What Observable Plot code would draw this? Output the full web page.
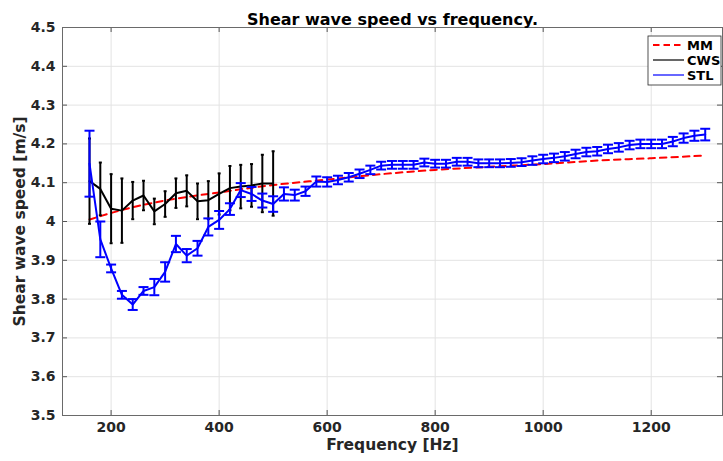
<!DOCTYPE html>
<html>
<head>
<meta charset="utf-8">
<script src="https://cdn.jsdelivr.net/npm/d3@7"></script>
<script src="https://cdn.jsdelivr.net/npm/@observablehq/plot@0.6"></script>
<style>
  html, body { margin: 0; padding: 0; background: #fff; }
  #chart svg { display: block; }
</style>
</head>
<body>
<div id="chart"></div>
<script>
// ---- Data ----
const titleText = "Shear wave speed vs frequency.";
const xLabel = "Frequency [Hz]";
const yLabel = "Shear wave speed [m/s]";
const xTicks = [200, 400, 600, 800, 1000, 1200];
const yTicks = [3.5, 3.6, 3.7, 3.8, 3.9, 4.0, 4.1, 4.2, 4.3, 4.4, 4.5];
const seriesNames = ["MM", "CWS", "STL"];
const seriesColors = ["#ff0000", "#000000", "#0000ff"];

// MM model curve (red dashed)
const mmFreq = [160, 200, 250, 300, 400, 500, 600, 700, 800, 900, 1000, 1100, 1200, 1300];
const mmSpeed = [4.005, 4.022, 4.040, 4.054, 4.075, 4.094, 4.108, 4.122, 4.133, 4.141, 4.148, 4.157, 4.163, 4.170];

// CWS (black, with error bars)
const cwsFreq = [160, 180, 200, 220, 240, 260, 280, 300, 320, 340, 360, 380, 400, 420, 440, 460, 480, 500];
const cwsSpeed = [4.104, 4.084, 4.033, 4.028, 4.054, 4.067, 4.026, 4.045, 4.073, 4.079, 4.052, 4.055, 4.071, 4.086, 4.090, 4.093, 4.098, 4.098];
const cwsErr = [0.110, 0.068, 0.089, 0.083, 0.048, 0.038, 0.033, 0.033, 0.038, 0.040, 0.046, 0.049, 0.053, 0.057, 0.056, 0.055, 0.074, 0.083];

// STL (blue, with error bars)
const stlFreq = [160, 180, 200, 220, 240, 260, 280, 300, 320, 340, 360, 380, 400, 420, 440, 460, 480, 500,
  520, 540, 560, 580, 600, 620, 640, 660, 680, 700, 720, 740, 760, 780, 800, 820, 840, 860, 880, 900,
  920, 940, 960, 980, 1000, 1020, 1040, 1060, 1080, 1100, 1120, 1140, 1160, 1180, 1200, 1220, 1240, 1260, 1280, 1300];
const stlSpeed = [4.149, 3.954, 3.879, 3.811, 3.786, 3.821, 3.831, 3.870, 3.942, 3.912, 3.931, 3.986, 4.004, 4.032, 4.081, 4.071, 4.054, 4.045,
  4.071, 4.068, 4.078, 4.103, 4.102, 4.107, 4.114, 4.123, 4.133, 4.144, 4.146, 4.146, 4.146, 4.152, 4.149, 4.149, 4.154, 4.154, 4.150, 4.150,
  4.150, 4.151, 4.153, 4.157, 4.161, 4.164, 4.168, 4.174, 4.179, 4.181, 4.187, 4.191, 4.197, 4.200, 4.200, 4.200, 4.206, 4.215, 4.221, 4.224];
const stlErr = [0.085, 0.046, 0.010, 0.010, 0.014, 0.010, 0.021, 0.025, 0.021, 0.017, 0.019, 0.022, 0.023, 0.015, 0.018, 0.018, 0.018, 0.020,
  0.017, 0.014, 0.012, 0.013, 0.012, 0.011, 0.011, 0.011, 0.011, 0.010, 0.010, 0.010, 0.010, 0.010, 0.010, 0.010, 0.010, 0.010, 0.010, 0.010,
  0.010, 0.010, 0.010, 0.011, 0.011, 0.011, 0.011, 0.011, 0.011, 0.011, 0.011, 0.011, 0.011, 0.011, 0.011, 0.011, 0.012, 0.012, 0.013, 0.015];

// ---- Build tables ----
const mm = mmFreq.map((f, i) => ({f, v: mmSpeed[i]}));
const cws = cwsFreq.map((f, i) => ({f, v: cwsSpeed[i], lo: cwsSpeed[i] - cwsErr[i], hi: cwsSpeed[i] + cwsErr[i]}));
const stl = stlFreq.map((f, i) => ({f, v: stlSpeed[i], lo: stlSpeed[i] - stlErr[i], hi: stlSpeed[i] + stlErr[i]}));

// horizontal cap symbol (half-width = r)
const capSymbol = {
  draw(ctx, size) {
    const w = Math.sqrt(size / Math.PI);
    ctx.moveTo(-w, 0);
    ctx.lineTo(w, 0);
  }
};

const W = 723, H = 461;
const mL = 62, mR = 1, mT = 27, mB = 46;
const innerH = H - mT - mB, innerW = W - mL - mR;
const font = "DejaVu Sans";
const txt = "#262626";

const errMarks = (data, color, capR, lw) => [
  Plot.ruleX(data, {x: "f", y1: "lo", y2: "hi", stroke: color, strokeWidth: lw}),
  Plot.dot(data, {x: "f", y: "lo", symbol: capSymbol, r: capR, stroke: color, strokeWidth: lw, fill: "none"}),
  Plot.dot(data, {x: "f", y: "hi", symbol: capSymbol, r: capR, stroke: color, strokeWidth: lw, fill: "none"})
];

const chart = Plot.plot({
  width: W,
  height: H,
  marginLeft: mL,
  marginRight: mR,
  marginTop: mT,
  marginBottom: mB,
  style: {fontFamily: font, fontWeight: "bold", background: "#fff", overflow: "visible"},
  x: {domain: [110, 1332]},
  y: {domain: [3.5, 4.5]},
  marks: [
    Plot.gridX(xTicks, {stroke: "#e3e3e3", strokeOpacity: 1}),
    Plot.gridY(yTicks, {stroke: "#e3e3e3", strokeOpacity: 1}),
    // inward ticks
    Plot.tickX(xTicks, {x: d => d, insetTop: innerH - 5, stroke: "#555"}),
    Plot.tickX(xTicks, {x: d => d, insetBottom: innerH - 5, stroke: "#555"}),
    Plot.tickY(yTicks, {y: d => d, insetRight: innerW - 5, stroke: "#555"}),
    Plot.tickY(yTicks, {y: d => d, insetLeft: innerW - 5, stroke: "#555"}),
    Plot.axisX(xTicks, {tickSize: 0, tickPadding: 7, fontSize: 14, fill: txt, label: null,
      tickFormat: d => String(d)}),
    Plot.axisY(yTicks, {tickSize: 0, tickPadding: 7, fontSize: 14, fill: txt, label: null,
      tickFormat: d => String(+d.toFixed(1))}),
    // MM
    Plot.line(mm, {x: "f", y: "v", stroke: seriesColors[0], strokeWidth: 2, strokeDasharray: "6.5,5", curve: "monotone-x"}),
    // CWS
    ...errMarks(cws, seriesColors[1], 1.5, 2),
    Plot.line(cws, {x: "f", y: "v", stroke: seriesColors[1], strokeWidth: 2}),
    // STL
    ...errMarks(stl, seriesColors[2], 5, 2),
    Plot.line(stl, {x: "f", y: "v", stroke: seriesColors[2], strokeWidth: 2}),
    Plot.frame({stroke: "#6a6a6a", strokeWidth: 1}),
    // title & axis labels
    Plot.text([titleText], {frameAnchor: "top", dy: -14, fontSize: 16, fontWeight: "bold", fill: "#000"}),
    Plot.text([xLabel], {frameAnchor: "bottom", dy: 34, fontSize: 15.5, fontWeight: "bold", fill: txt}),
    Plot.text([yLabel], {frameAnchor: "left", textAnchor: "middle", dx: -42, rotate: -90, fontSize: 15.5, fontWeight: "bold", fill: txt})
  ]
});

document.getElementById("chart").appendChild(chart);

// ---- Legend (top-right, inside axes) ----
const svg = d3.select(chart);
const lg = svg.append("g").attr("font-family", font).attr("font-weight", "bold").attr("font-size", 13)
  .attr("text-anchor", "start");
const lx = 648, ly = 36, lw = 73, lh = 49;
lg.append("rect").attr("x", lx).attr("y", ly).attr("width", lw).attr("height", lh)
  .attr("fill", "#fff").attr("stroke", "#262626").attr("stroke-width", 0.8);
seriesNames.forEach((name, i) => {
  const yy = ly + 9 + i * 15;
  lg.append("line").attr("x1", lx + 5).attr("x2", lx + 36).attr("y1", yy).attr("y2", yy)
    .attr("stroke", seriesColors[i]).attr("stroke-width", i === 0 ? 2 : 1.2)
    .attr("stroke-dasharray", i === 0 ? "6.5,4" : null);
  lg.append("text").attr("x", lx + 39).attr("y", yy).attr("dy", "0.36em")
    .attr("text-anchor", "start").attr("fill", "#000").text(name);
});
</script>
</body>
</html>
